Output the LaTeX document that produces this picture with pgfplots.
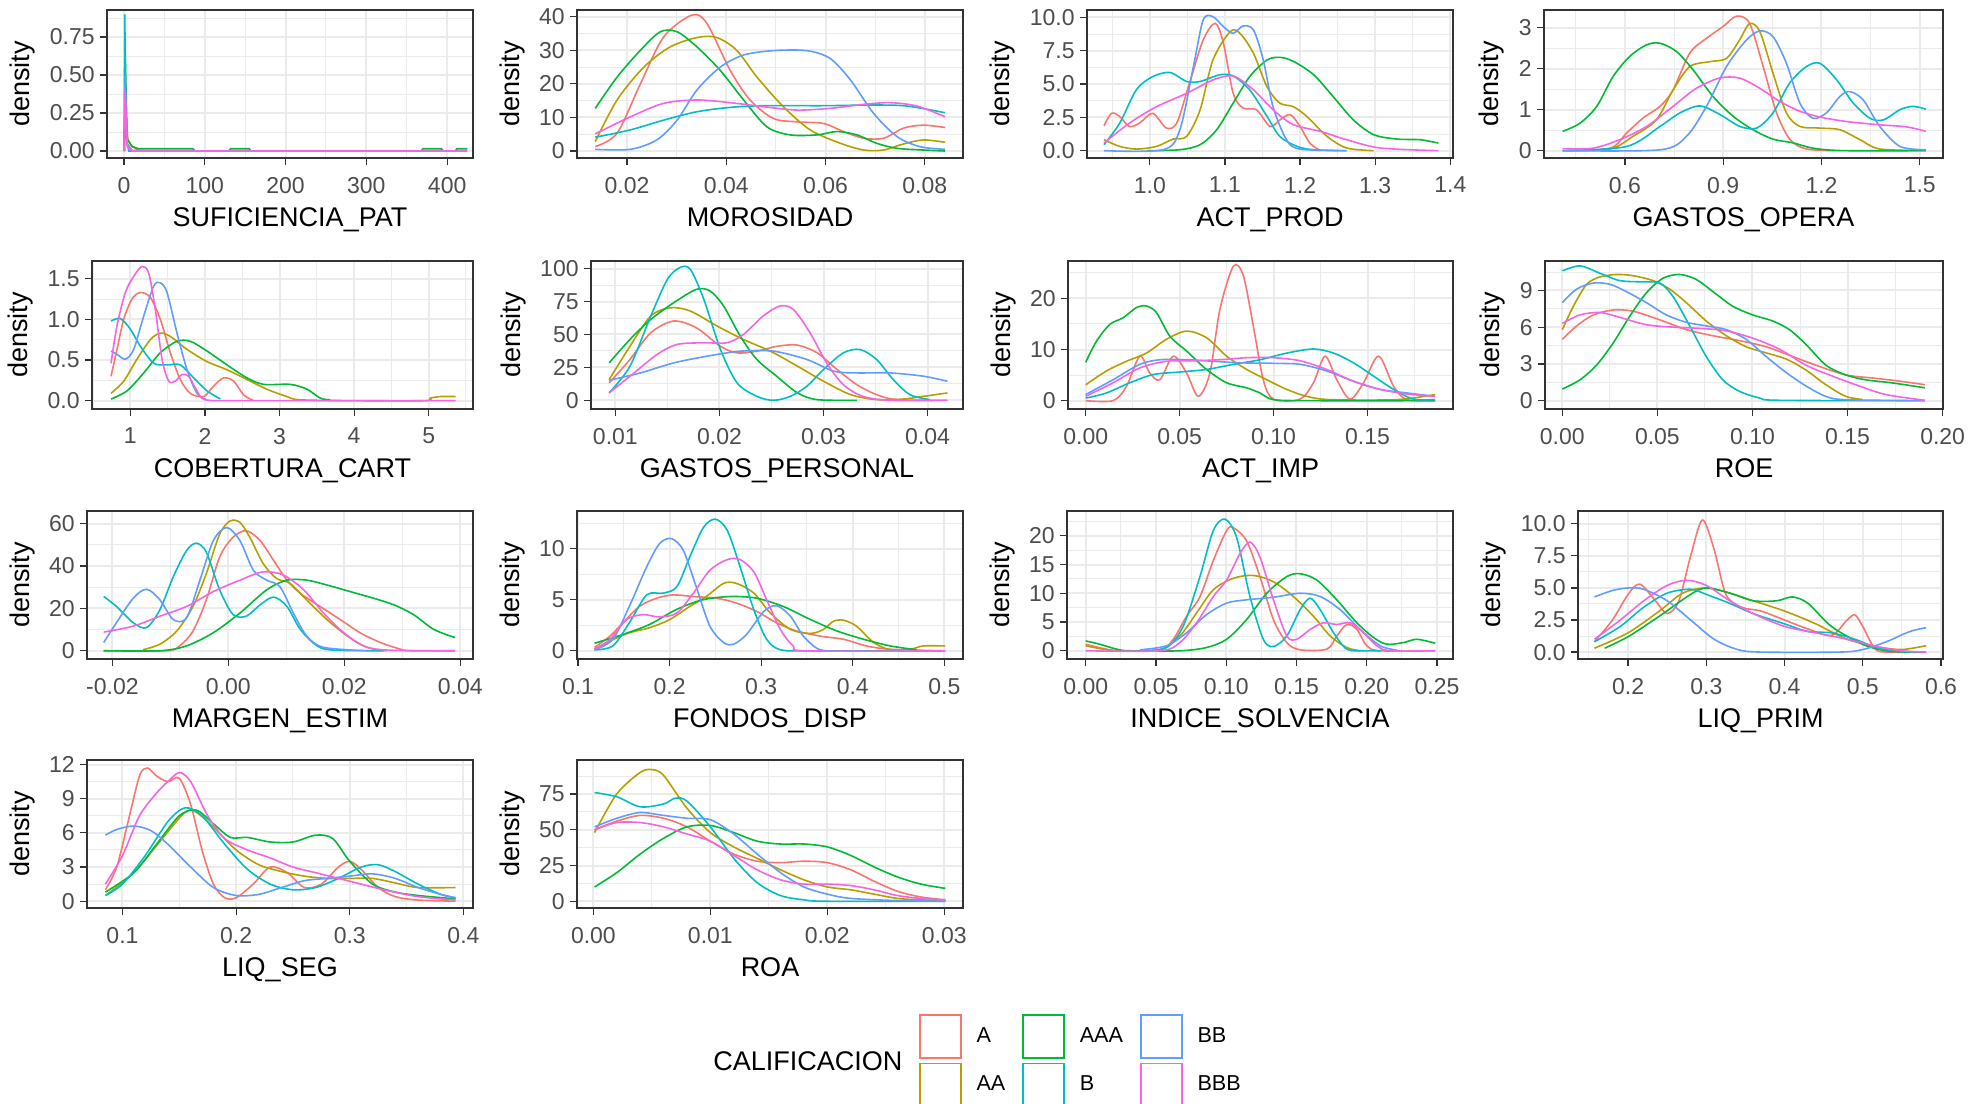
\documentclass[border=0pt]{standalone}
\usepackage{fontspec}
\setmainfont{Liberation Sans}
\usepackage{pgfplots}
\pgfplotsset{compat=1.18}

\definecolor{cA}{HTML}{F8766D}
\definecolor{cAA}{HTML}{B79F00}
\definecolor{cAAA}{HTML}{00BA38}
\definecolor{cB}{HTML}{00BFC4}
\definecolor{cBB}{HTML}{619CFF}
\definecolor{cBBB}{HTML}{F564E3}
\definecolor{gr20}{HTML}{333333}
\definecolor{gr30}{HTML}{4D4D4D}
\definecolor{gr92}{HTML}{EBEBEB}

\newcommand{\ticfont}{\fontsize{11.5}{13}\selectfont}
\newcommand{\titfont}{\fontsize{13.5}{16}\selectfont}
\newcommand{\legfont}{\fontsize{10.8}{12}\selectfont}

\pgfplotsset{
  panel/.style={
    scale only axis, anchor=north west, height=74pt,
    scaled ticks=false, tick pos=left,
    axis line style={draw=gr20, line width=0.9pt},
    tick align=outside,
    major tick length=3.5pt, minor tick length=0pt,
    tick style={draw=gr20, line width=0.6pt},
    xmajorgrids, ymajorgrids, xminorgrids, yminorgrids,
    major grid style={draw=gr92, line width=1pt},
    minor grid style={draw=gr92, line width=0.5pt},
    xticklabel style={font=\ticfont, text=gr30, inner sep=0pt, yshift=-5.8pt},
    yticklabel style={font=\ticfont, text=gr30, inner sep=0pt, xshift=-2.5pt},
    ylabel={density},
    ylabel style={font=\titfont, inner sep=0pt, at={(ticklabel cs:0.5,7pt)}, anchor=near ticklabel},
    xlabel style={font=\titfont, inner sep=0pt, at={(ticklabel cs:0.5,7pt)}, anchor=near ticklabel},
    every axis plot/.append style={line width=0.8pt, smooth, mark=none},
  },
}

\begin{document}
\begin{tikzpicture}
\useasboundingbox (0,0) rectangle (990pt,-551.5pt);

% ---------------- row 1 ----------------
\begin{axis}[panel, at={(53.5pt,-5pt)}, width=183pt,
  xmin=-21, xmax=432, ymin=-0.046, ymax=0.928,
  xtick={0,100,200,300,400}, xticklabels={0,100,200,300,400}, minor xtick={50,150,250,350},
  ytick={0,0.25,0.5,0.75}, yticklabels={0.00,0.25,0.50,0.75}, minor ytick={0.125,0.375,0.625,0.875},
  xlabel={SUFICIENCIA\_PAT}]
\addplot[cA, sharp plot] coordinates {(0.3,0)(1.5,0.3)(4,0.05)(10,0.005)(25,0)};
\addplot[cAA, sharp plot] coordinates {(0.3,0)(2,0.25)(5,0.07)(10,0.03)(18,0.005)(30,0)};
\addplot[cAAA, sharp plot] coordinates {(0.3,0)(1.5,0.65)(4,0.08)(10,0.03)(18,0.015)(85,0.015)(88,0)(130,0)(132,0.015)(155,0.015)(157,0)(368,0)(370,0.015)(393,0.015)(395,0)(410,0)(412,0.015)(425,0.015)};
\addplot[cB, sharp plot] coordinates {(0.3,0)(1,0.9)(2.5,0.1)(6,0)(25,0)};
\addplot[cBB, sharp plot] coordinates {(0.3,0)(1.5,0.5)(4,0.04)(10,0)(30,0)};
\addplot[cBBB, sharp plot] coordinates {(0.3,0)(1.5,0.4)(4,0.03)(10,0)(425,0)};
\end{axis}

\begin{axis}[panel, at={(288.5pt,-5pt)}, width=193pt,
  xmin=0.00993, xmax=0.0877, ymin=-2.08, ymax=42,
  xtick={0.02,0.04,0.06,0.08}, xticklabels={0.02,0.04,0.06,0.08}, minor xtick={0.01,0.03,0.05,0.07},
  ytick={0,10,20,30,40}, yticklabels={0,10,20,30,40}, minor ytick={5,15,25,35},
  xlabel={MOROSIDAD}]
\addplot[cA] coordinates {(0.0136,1.3)(0.018,5.3)(0.0227,20)(0.0274,34)(0.0331,40.5)(0.0361,38)(0.0408,24)(0.0448,15.2)(0.0495,9.7)(0.0542,8.7)(0.0596,8.2)(0.0636,5.8)(0.0677,3.8)(0.0717,3.8)(0.0757,6.8)(0.0797,7.7)(0.0841,7.0)};
\addplot[cAA] coordinates {(0.0136,2.8)(0.018,15.2)(0.0234,25)(0.0287,31)(0.0341,33.8)(0.0381,33.8)(0.0421,30)(0.0462,22)(0.0515,13.2)(0.0569,6.3)(0.063,2.3)(0.0677,0.3)(0.0717,0.3)(0.0757,2.1)(0.0797,3.3)(0.0841,2.6)};
\addplot[cAAA] coordinates {(0.0136,12.7)(0.018,22)(0.0227,30)(0.0267,35.5)(0.0301,35.5)(0.0341,31)(0.0388,24)(0.0435,15.2)(0.0482,7.2)(0.0529,4.8)(0.0583,4.8)(0.0623,5.8)(0.0663,4.8)(0.0703,2.3)(0.0744,0.8)(0.0797,0.3)(0.0841,0)};
\addplot[cB] coordinates {(0.0136,4.1)(0.0207,6.3)(0.0274,9.2)(0.0341,11.7)(0.0408,13)(0.0475,13.5)(0.0596,13.5)(0.0697,13.7)(0.0764,13.4)(0.0841,11.4)};
\addplot[cBB] coordinates {(0.0136,0.5)(0.0207,0.5)(0.026,3.3)(0.0301,9.2)(0.0341,18.2)(0.0388,25)(0.0435,28.6)(0.0495,29.9)(0.0562,29.9)(0.0609,27.6)(0.065,21.2)(0.0697,11.2)(0.0744,4.3)(0.079,1.3)(0.0841,0.5)};
\addplot[cBBB] coordinates {(0.0136,5.1)(0.0207,10.2)(0.0274,14.2)(0.0341,15.2)(0.0408,14.4)(0.0475,13.2)(0.0542,12.2)(0.0609,12.7)(0.0677,13.9)(0.073,14.4)(0.0784,13.4)(0.0841,10.2)};
\end{axis}

\begin{axis}[panel, at={(543.5pt,-5pt)}, width=183pt,
  xmin=0.9164, xmax=1.4036, ymin=-0.55, ymax=10.55,
  xtick={1,1.1,1.2,1.3,1.4}, xticklabels={1.0,1.1,1.2,1.3,1.4}, minor xtick={0.95,1.05,1.15,1.25,1.35},
  ytick={0,2.5,5,7.5,10}, yticklabels={0.0,2.5,5.0,7.5,10.0}, minor ytick={1.25,3.75,6.25,8.75},
  xlabel={ACT\_PROD}]
\addplot[cA] coordinates {(0.939,1.87)(0.949,2.8)(0.96,2.57)(0.973,1.8)(0.987,2.1)(1.004,2.8)(1.022,1.7)(1.036,2.1)(1.053,5.1)(1.071,8.3)(1.087,9.55)(1.098,8.05)(1.111,4.3)(1.124,3.2)(1.142,3.07)(1.16,1.82)(1.173,2.3)(1.187,2.7)(1.2,1.82)(1.213,0.57)(1.227,0)};
\addplot[cAA] coordinates {(0.939,0.82)(0.96,0.32)(0.982,0.12)(1.009,0.32)(1.031,0.87)(1.049,1.07)(1.067,3.07)(1.084,6.8)(1.107,8.93)(1.12,8.8)(1.138,7.3)(1.156,4.8)(1.173,3.57)(1.191,3.3)(1.209,2.57)(1.236,1.07)(1.262,0.2)(1.298,0)};
\addplot[cAAA] coordinates {(0.996,0)(1.04,0.07)(1.067,0.45)(1.089,1.57)(1.111,3.57)(1.133,5.56)(1.156,6.8)(1.173,7.0)(1.191,6.7)(1.218,5.7)(1.244,4.06)(1.271,2.3)(1.298,1.2)(1.329,0.87)(1.36,0.82)(1.384,0.57)};
\addplot[cB] coordinates {(0.939,0.45)(0.96,2.07)(0.982,4.56)(1.004,5.56)(1.027,5.86)(1.049,5.19)(1.067,5.19)(1.093,5.69)(1.111,5.6)(1.133,4.56)(1.156,2.57)(1.173,1.07)(1.196,0.32)(1.218,0.07)(1.262,0)};
\addplot[cBB] coordinates {(0.939,0)(1.018,0.07)(1.04,1.57)(1.058,6.3)(1.071,9.8)(1.084,10.05)(1.098,9.3)(1.111,8.8)(1.124,9.35)(1.138,9.05)(1.151,6.8)(1.164,3.3)(1.182,0.82)(1.2,0.12)(1.262,0)};
\addplot[cBBB] coordinates {(0.939,0.57)(0.973,2.07)(1.009,3.3)(1.049,4.3)(1.084,5.3)(1.111,5.6)(1.138,4.56)(1.164,3.07)(1.191,1.95)(1.227,1.45)(1.262,0.82)(1.307,0.2)(1.384,0)};
\end{axis}

\begin{axis}[panel, at={(772pt,-5pt)}, width=199.5pt,
  xmin=0.353, xmax=1.571, ymin=-0.18, ymax=3.43,
  xtick={0.6,0.9,1.2,1.5}, xticklabels={0.6,0.9,1.2,1.5}, minor xtick={0.45,0.75,1.05,1.35},
  ytick={0,1,2,3}, yticklabels={0,1,2,3}, minor ytick={0.5,1.5,2.5},
  xlabel={GASTOS\_OPERA}]
\addplot[cA] coordinates {(0.41,0)(0.554,0.06)(0.605,0.43)(0.656,0.8)(0.707,1.08)(0.747,1.48)(0.798,2.38)(0.849,2.74)(0.9,3.03)(0.941,3.28)(0.981,3.1)(1.022,2.05)(1.063,0.92)(1.104,0.27)(1.154,0.04)(1.246,0)};
\addplot[cAA] coordinates {(0.41,0)(0.554,0.04)(0.625,0.35)(0.696,0.75)(0.747,1.48)(0.798,2.05)(0.859,2.17)(0.91,2.25)(0.95,2.7)(0.981,3.1)(1.012,2.9)(1.052,1.89)(1.093,0.92)(1.134,0.59)(1.195,0.55)(1.256,0.51)(1.317,0.27)(1.378,0.04)(1.519,0)};
\addplot[cAAA] coordinates {(0.41,0.47)(0.463,0.67)(0.514,1.08)(0.564,1.81)(0.615,2.3)(0.666,2.58)(0.707,2.62)(0.757,2.42)(0.808,1.97)(0.869,1.32)(0.93,0.84)(0.991,0.51)(1.052,0.28)(1.113,0.19)(1.174,0.06)(1.266,0)(1.519,0)};
\addplot[cB] coordinates {(0.41,0)(0.605,0.1)(0.707,0.59)(0.768,0.92)(0.829,1.09)(0.89,0.88)(0.951,0.59)(1.002,0.55)(1.052,0.92)(1.103,1.65)(1.154,2.05)(1.195,2.13)(1.246,1.73)(1.297,1.16)(1.348,0.79)(1.389,0.75)(1.44,1.0)(1.48,1.08)(1.519,1.01)};
\addplot[cBB] coordinates {(0.41,0)(0.707,0.02)(0.788,0.35)(0.849,1.08)(0.91,2.05)(0.971,2.7)(1.012,2.92)(1.052,2.78)(1.093,2.13)(1.134,1.16)(1.174,0.79)(1.215,0.92)(1.256,1.32)(1.286,1.44)(1.327,1.24)(1.378,0.59)(1.44,0.1)(1.519,0.02)};
\addplot[cBBB] coordinates {(0.41,0.05)(0.503,0.06)(0.585,0.27)(0.666,0.59)(0.747,1.08)(0.818,1.52)(0.889,1.77)(0.95,1.77)(1.012,1.52)(1.073,1.2)(1.134,0.96)(1.195,0.82)(1.276,0.71)(1.378,0.63)(1.459,0.58)(1.519,0.47)};
\end{axis}

% ---------------- row 2 ----------------
\begin{axis}[panel, at={(46pt,-130.5pt)}, width=190.5pt,
  xmin=0.486, xmax=5.594, ymin=-0.103, ymax=1.718,
  xtick={1,2,3,4,5}, xticklabels={1,2,3,4,5}, minor xtick={0.5,1.5,2.5,3.5,4.5,5.5},
  ytick={0,0.5,1,1.5}, yticklabels={0.0,0.5,1.0,1.5}, minor ytick={0.25,0.75,1.25},
  xlabel={COBERTURA\_CART}]
\addplot[cA] coordinates {(0.741,0.3)(0.821,0.63)(0.911,1.0)(1.022,1.25)(1.134,1.33)(1.268,1.27)(1.402,1.0)(1.536,0.59)(1.67,0.26)(1.804,0.09)(1.983,0.05)(2.117,0.18)(2.251,0.28)(2.385,0.24)(2.52,0.07)(2.654,0)};
\addplot[cAA] coordinates {(0.741,0.09)(0.911,0.24)(1.089,0.51)(1.268,0.75)(1.402,0.83)(1.536,0.79)(1.76,0.63)(2.028,0.48)(2.296,0.38)(2.564,0.26)(2.832,0.14)(3.1,0.05)(3.279,0.01)(4.0,0)(4.95,0)(5.02,0.03)(5.15,0.05)(5.36,0.05)};
\addplot[cAAA] coordinates {(0.741,0.02)(0.955,0.12)(1.179,0.34)(1.402,0.59)(1.626,0.73)(1.804,0.73)(2.028,0.61)(2.296,0.44)(2.564,0.28)(2.788,0.2)(3.145,0.2)(3.369,0.14)(3.548,0.03)(3.682,0.01)};
\addplot[cB] coordinates {(0.741,0.98)(0.866,1.01)(1.0,0.88)(1.134,0.67)(1.313,0.46)(1.492,0.44)(1.67,0.44)(1.849,0.28)(2.028,0.12)(2.207,0.02)};
\addplot[cBB] coordinates {(0.741,0.61)(0.821,0.57)(0.933,0.51)(1.045,0.63)(1.179,1.04)(1.313,1.41)(1.402,1.45)(1.492,1.33)(1.626,0.83)(1.76,0.38)(1.894,0.09)(2.028,0.01)};
\addplot[cBBB] coordinates {(0.741,0.46)(0.821,0.92)(0.933,1.33)(1.045,1.53)(1.156,1.65)(1.246,1.57)(1.335,1.12)(1.425,0.51)(1.514,0.24)(1.603,0.24)(1.693,0.32)(1.782,0.3)(1.894,0.12)(2.006,0.01)(2.5,0)(5.36,0)};
\end{axis}

\begin{axis}[panel, at={(295.5pt,-130.5pt)}, width=186pt,
  xmin=0.00766, xmax=0.0434, ymin=-6.6, ymax=105.8,
  xtick={0.01,0.02,0.03,0.04}, xticklabels={0.01,0.02,0.03,0.04}, minor xtick={0.015,0.025,0.035},
  ytick={0,25,50,75,100}, yticklabels={0,25,50,75,100}, minor ytick={12.5,37.5,62.5,87.5},
  xlabel={GASTOS\_PERSONAL}]
\addplot[cA] coordinates {(0.0094,13.2)(0.0114,31)(0.0134,51.3)(0.0156,60.2)(0.0178,55)(0.0201,41)(0.0217,36)(0.0236,37.3)(0.0255,41)(0.0275,41.9)(0.0294,36)(0.0313,23.4)(0.0332,11.9)(0.0351,4.3)(0.0371,0.5)(0.0419,0)};
\addplot[cAA] coordinates {(0.0094,15.7)(0.0114,41)(0.0134,64)(0.0153,70.3)(0.0172,67.8)(0.0198,56.3)(0.0223,46.2)(0.0249,37.3)(0.0275,25.9)(0.03,14.5)(0.0326,4.3)(0.0351,0.5)(0.0377,1.0)(0.0396,3.0)(0.0419,5.6)};
\addplot[cAAA] coordinates {(0.0094,28.4)(0.0114,46.2)(0.0134,61.4)(0.0156,74.1)(0.0178,84.3)(0.0191,83)(0.0204,71.6)(0.022,48.7)(0.0236,31)(0.0255,18.3)(0.0275,5.6)(0.0294,0.5)(0.0332,0)};
\addplot[cB] coordinates {(0.0094,5.6)(0.0114,25.9)(0.0134,64)(0.015,91.9)(0.0162,100.8)(0.0172,99.5)(0.0185,76.6)(0.0201,38.6)(0.0217,13.2)(0.0236,3.0)(0.0252,0)(0.0268,3.0)(0.0284,10.7)(0.03,23.4)(0.0319,36)(0.0335,38.6)(0.0351,31)(0.0367,15.7)(0.0383,4.3)(0.0402,0.5)};
\addplot[cBB] coordinates {(0.0094,15.2)(0.0124,20.8)(0.0156,28.4)(0.0188,33.5)(0.022,37.3)(0.0252,37.3)(0.0284,31)(0.031,22.1)(0.0332,20.8)(0.0364,20.8)(0.0396,18.3)(0.0419,14.5)};
\addplot[cBBB] coordinates {(0.0094,5.6)(0.0118,20.8)(0.014,34.8)(0.0159,42.4)(0.0185,43.7)(0.0207,43.7)(0.0223,50)(0.0242,64)(0.0258,71.6)(0.0271,69)(0.0287,51.3)(0.0303,28.4)(0.0319,11.9)(0.0338,3.0)(0.0364,0)(0.0419,0)};
\end{axis}

\begin{axis}[panel, at={(534pt,-130.5pt)}, width=192.5pt,
  xmin=-0.00942, xmax=0.1955, ymin=-1.63, ymax=27.3,
  xtick={0,0.05,0.1,0.15}, xticklabels={0.00,0.05,0.10,0.15}, minor xtick={0.025,0.075,0.125,0.175},
  ytick={0,10,20}, yticklabels={0,10,20}, minor ytick={5,15,25},
  xlabel={ACT\_IMP}]
\addplot[cA] coordinates {(0,0)(0.0146,0)(0.0217,2.8)(0.0288,8.7)(0.0341,5.4)(0.0395,4.1)(0.0466,8.7)(0.0537,5.4)(0.0599,0.85)(0.0661,5.4)(0.0714,17.8)(0.0786,26.3)(0.0839,24.4)(0.0892,14.6)(0.0945,4.1)(0.0999,0.3)(0.1141,0.3)(0.1212,3.5)(0.1274,8.7)(0.1336,4.1)(0.1407,0.3)(0.1479,3.5)(0.1559,8.7)(0.1639,2.8)(0.171,0.2)(0.186,0)};
\addplot[cAA] coordinates {(0,3.1)(0.011,5.8)(0.0217,7.7)(0.0323,9.3)(0.043,12)(0.0537,13.6)(0.0643,12.3)(0.075,8.7)(0.0857,6.1)(0.0963,4.1)(0.107,2.2)(0.1176,0.85)(0.1301,0.2)(0.1656,0.2)(0.186,1.2)};
\addplot[cAAA] coordinates {(0,7.5)(0.0057,11.6)(0.0128,14.9)(0.0199,16.2)(0.027,18.2)(0.0323,18.5)(0.0377,17.2)(0.0448,12.6)(0.0537,9.7)(0.0643,6.1)(0.075,3.5)(0.0857,2.5)(0.0928,1.5)(0.0999,0.2)(0.12,0)(0.186,0)};
\addplot[cB] coordinates {(0,0.5)(0.011,1.5)(0.0235,3.5)(0.0359,5.1)(0.0501,5.6)(0.0643,6.1)(0.0786,7.1)(0.0928,8.0)(0.107,9.3)(0.1212,10.1)(0.1319,9.3)(0.1425,7.4)(0.1532,4.8)(0.1639,2.2)(0.1745,0.3)(0.186,0.2)};
\addplot[cBB] coordinates {(0,1.2)(0.0146,4.1)(0.0288,7.1)(0.0395,8.0)(0.0537,8.0)(0.068,7.7)(0.0821,7.4)(0.0999,7.3)(0.1141,7.1)(0.1283,5.8)(0.1425,3.8)(0.1567,2.2)(0.171,1.5)(0.186,0.85)};
\addplot[cBBB] coordinates {(0,0.85)(0.0146,3.5)(0.0288,6.4)(0.043,7.7)(0.0572,7.8)(0.0714,8.0)(0.0857,8.4)(0.0999,8.4)(0.1141,7.8)(0.1283,6.1)(0.1425,3.8)(0.1567,2.2)(0.171,1.3)(0.186,0.85)};
\end{axis}

\begin{axis}[panel, at={(772.5pt,-130.5pt)}, width=199pt,
  xmin=-0.0091, xmax=0.2002, ymin=-0.68, ymax=11.4,
  xtick={0,0.05,0.1,0.15,0.2}, xticklabels={0.00,0.05,0.10,0.15,0.20}, minor xtick={0.025,0.075,0.125,0.175},
  ytick={0,3,6,9}, yticklabels={0,3,6,9}, minor ytick={1.5,4.5,7.5,10.5},
  xlabel={ROE}]
\addplot[cA] coordinates {(0,5.0)(0.0075,6.1)(0.0163,7.0)(0.0267,7.4)(0.0372,7.3)(0.0512,6.6)(0.0652,5.8)(0.0792,5.3)(0.0932,4.9)(0.1072,4.4)(0.1212,3.6)(0.1351,2.8)(0.1491,2.1)(0.1631,1.85)(0.1771,1.6)(0.1907,1.3)};
\addplot[cAA] coordinates {(0,5.8)(0.0058,7.7)(0.0128,9.5)(0.0198,10.1)(0.0285,10.3)(0.0372,10.2)(0.0477,9.8)(0.0565,9.1)(0.0652,8.0)(0.0757,6.5)(0.0862,5.3)(0.0967,4.4)(0.1072,3.9)(0.1177,3.4)(0.1281,2.5)(0.1386,1.3)(0.1491,0.35)(0.1579,0.1)};
\addplot[cAAA] coordinates {(0,0.95)(0.0093,1.7)(0.018,2.9)(0.0267,4.7)(0.0355,6.9)(0.0442,8.8)(0.053,10.0)(0.0617,10.3)(0.0704,9.9)(0.0792,8.9)(0.0897,7.7)(0.1002,7.0)(0.1107,6.5)(0.1194,5.8)(0.1281,4.6)(0.1386,2.9)(0.1491,2.1)(0.1596,1.7)(0.1736,1.45)(0.1907,1.05)};
\addplot[cB] coordinates {(0,10.6)(0.0093,11.0)(0.0198,10.4)(0.0302,9.8)(0.0407,9.7)(0.0512,9.6)(0.0582,8.5)(0.067,6.1)(0.0757,3.6)(0.0844,1.7)(0.0932,0.76)(0.1037,0.22)(0.1142,0.03)(0.1907,0)};
\addplot[cBB] coordinates {(0,8.0)(0.0075,9.1)(0.0163,9.6)(0.025,9.5)(0.0337,8.9)(0.0442,8.0)(0.0547,7.0)(0.0652,6.4)(0.0757,6.1)(0.0862,5.8)(0.0967,5.0)(0.1072,3.6)(0.1177,2.3)(0.1281,1.2)(0.1386,0.35)(0.1491,0.08)(0.1907,0)};
\addplot[cBBB] coordinates {(0,6.3)(0.0093,7.0)(0.0198,7.2)(0.0302,6.8)(0.0442,6.2)(0.0582,6.0)(0.0722,5.9)(0.0862,5.7)(0.1002,5.1)(0.1142,4.2)(0.1281,2.9)(0.1421,2.0)(0.1561,1.2)(0.1701,0.5)(0.1907,0.03)};
\end{axis}

% ---------------- row 3 ----------------
\begin{axis}[panel, at={(43.5pt,-255.5pt)}, width=193pt,
  xmin=-0.02438, xmax=0.04219, ymin=-3.9, ymax=65.9,
  xtick={-0.02,0,0.02,0.04}, xticklabels={-0.02,0.00,0.02,0.04}, minor xtick={-0.01,0.01,0.03},
  ytick={0,20,40,60}, yticklabels={0,20,40,60}, minor ytick={10,30,50},
  xlabel={MARGEN\_ESTIM}]
\addplot[cA] coordinates {(-0.0215,0)(-0.0107,0)(-0.0084,2.3)(-0.0061,9.3)(-0.0038,24)(-0.0015,44.2)(0.0008,53.5)(0.0031,56.6)(0.0055,51.9)(0.0078,42.6)(0.0101,33.3)(0.0124,27.1)(0.0158,20.9)(0.0193,14.7)(0.0227,8.5)(0.0262,3.9)(0.0296,0.8)(0.0314,0)(0.0391,0)};
\addplot[cAA] coordinates {(-0.0147,0.5)(-0.0118,3.1)(-0.0089,9.3)(-0.0061,20.9)(-0.0038,36.4)(-0.0015,55)(0.0003,61.2)(0.002,60.5)(0.0037,53.5)(0.006,41.1)(0.0083,34.1)(0.0106,31.8)(0.0135,24)(0.017,14.7)(0.0205,7.0)(0.0239,1.6)(0.0274,0)};
\addplot[cAAA] coordinates {(-0.0215,0)(-0.0118,0)(-0.0072,2.3)(-0.0026,8.5)(0.002,17.8)(0.0066,28.7)(0.0101,33.3)(0.0135,33.3)(0.017,31)(0.021,27.9)(0.025,24.8)(0.0285,21.7)(0.0319,17.1)(0.0354,10.1)(0.0391,6.2)};
\addplot[cB] coordinates {(-0.0215,25.6)(-0.0193,20.9)(-0.0164,13.2)(-0.0141,10.9)(-0.0118,19.4)(-0.0095,34.9)(-0.0072,47.3)(-0.0055,50.7)(-0.0038,46.5)(-0.0015,28.7)(0.0008,17.1)(0.0031,16.3)(0.0055,21.7)(0.0078,25.3)(0.0101,20.9)(0.0124,10.1)(0.0153,2.3)(0.0181,0.3)(0.0268,0)};
\addplot[cBB] coordinates {(-0.0215,3.9)(-0.0193,13.2)(-0.0164,24.8)(-0.0141,29)(-0.0118,24)(-0.0095,14.7)(-0.0072,15.5)(-0.0049,33.3)(-0.0026,51.9)(-0.0003,58.1)(0.002,51.9)(0.0043,38)(0.0066,33.3)(0.0089,30.2)(0.0112,17.8)(0.0135,7.0)(0.0164,1.6)(0.0239,0)};
\addplot[cBBB] coordinates {(-0.0215,8.8)(-0.0164,11.6)(-0.0118,16.3)(-0.0072,20.9)(-0.0026,27.9)(0.002,33.3)(0.006,37.2)(0.0095,35.7)(0.013,28.7)(0.0164,17.8)(0.0199,8.5)(0.0233,2.3)(0.0274,0.3)(0.0391,0)};
\end{axis}

\begin{axis}[panel, at={(288.5pt,-255.5pt)}, width=193pt,
  xmin=0.0989, xmax=0.5204, ymin=-0.8, ymax=13.7,
  xtick={0.1,0.2,0.3,0.4,0.5}, xticklabels={0.1,0.2,0.3,0.4,0.5}, minor xtick={0.15,0.25,0.35,0.45},
  ytick={0,5,10}, yticklabels={0,5,10}, minor ytick={2.5,7.5,12.5},
  xlabel={FONDOS\_DISP}]
\addplot[cA] coordinates {(0.118,0.32)(0.135,1.45)(0.149,2.74)(0.167,4.35)(0.186,5.16)(0.204,5.48)(0.226,5.32)(0.251,5.16)(0.273,4.68)(0.295,3.87)(0.317,2.74)(0.339,1.94)(0.364,1.45)(0.39,1.13)(0.415,0.48)(0.441,0.16)(0.501,0)};
\addplot[cAA] coordinates {(0.118,0.16)(0.135,0.97)(0.156,1.77)(0.178,2.26)(0.2,3.06)(0.222,4.35)(0.24,5.32)(0.259,6.61)(0.273,6.61)(0.292,5.65)(0.31,3.71)(0.332,2.1)(0.354,1.71)(0.368,2.1)(0.379,2.9)(0.39,3.0)(0.404,2.42)(0.423,0.81)(0.441,0.1)(0.463,0.16)(0.477,0.48)(0.501,0.48)};
\addplot[cAAA] coordinates {(0.118,0.74)(0.149,1.61)(0.178,2.58)(0.207,4.03)(0.236,5.0)(0.266,5.32)(0.295,5.16)(0.324,4.35)(0.354,3.06)(0.383,1.94)(0.412,1.13)(0.441,0.48)(0.47,0.1)};
\addplot[cB] coordinates {(0.118,0.1)(0.138,0.48)(0.156,2.74)(0.175,5.48)(0.193,5.65)(0.208,6.29)(0.222,9.19)(0.237,12.1)(0.25,12.9)(0.263,11.8)(0.277,8.23)(0.292,4.03)(0.306,1.13)(0.321,0.1)(0.35,0)(0.501,0)};
\addplot[cBB] coordinates {(0.118,0.1)(0.138,1.13)(0.156,4.35)(0.175,8.23)(0.189,10.5)(0.202,11.0)(0.215,9.84)(0.229,6.29)(0.244,2.42)(0.259,0.81)(0.27,0.65)(0.284,1.61)(0.303,3.87)(0.317,4.42)(0.332,3.39)(0.346,1.45)(0.361,0.23)(0.372,0)};
\addplot[cBBB] coordinates {(0.118,0.16)(0.135,1.13)(0.153,3.06)(0.171,3.55)(0.189,3.32)(0.208,3.71)(0.226,5.65)(0.244,7.9)(0.263,8.94)(0.277,8.94)(0.292,7.74)(0.306,5.0)(0.321,2.1)(0.335,0.48)(0.35,0)(0.501,0)};
\end{axis}

\begin{axis}[panel, at={(533.5pt,-255.5pt)}, width=193pt,
  xmin=-0.0133, xmax=0.2614, ymin=-1.43, ymax=24.3,
  xtick={0,0.05,0.1,0.15,0.2,0.25}, xticklabels={0.00,0.05,0.10,0.15,0.20,0.25}, minor xtick={0.025,0.075,0.125,0.175,0.225},
  ytick={0,5,10,15,20}, yticklabels={0,5,10,15,20}, minor ytick={2.5,7.5,12.5,17.5,22.5},
  xlabel={INDICE\_SOLVENCIA}]
\addplot[cA] coordinates {(0,1.14)(0.0124,0.4)(0.0242,0)(0.0528,0.17)(0.0623,2.0)(0.0718,6.0)(0.0813,9.4)(0.0908,15.7)(0.1003,20.9)(0.105,21.4)(0.1145,19.1)(0.124,12.9)(0.1336,5.4)(0.1431,1.43)(0.1526,0.17)(0.1716,0.29)(0.1787,2.57)(0.1858,4.57)(0.193,3.71)(0.2001,0.86)(0.2096,0)(0.2488,0)};
\addplot[cAA] coordinates {(0,0.86)(0.0124,0.29)(0.0242,0)(0.0528,0.17)(0.067,2.57)(0.0789,6.57)(0.0908,10.6)(0.105,12.6)(0.1193,13.1)(0.1336,12.0)(0.1478,9.43)(0.1621,6.0)(0.174,2.57)(0.1858,0.57)(0.1953,0)};
\addplot[cAAA] coordinates {(0,1.71)(0.01,1.14)(0.0219,0.29)(0.0314,0)(0.067,0)(0.086,0.57)(0.1003,2.0)(0.1145,5.43)(0.1288,10.0)(0.1431,12.9)(0.1526,13.4)(0.1644,12.3)(0.1787,8.86)(0.193,4.86)(0.2049,2.29)(0.2144,1.14)(0.2262,1.43)(0.2357,2.0)(0.2488,1.31)};
\addplot[cB] coordinates {(0.0385,0)(0.0575,0.57)(0.0694,4.29)(0.0813,12.9)(0.0908,20.9)(0.0991,22.9)(0.1074,19.7)(0.1169,9.43)(0.1264,2.0)(0.1336,0.74)(0.1431,2.57)(0.1526,7.14)(0.1597,9.14)(0.1669,7.14)(0.1764,3.14)(0.1858,0.29)(0.1977,0)(0.21,0)};
\addplot[cBB] coordinates {(0.0385,0.17)(0.0575,0.86)(0.0718,3.14)(0.086,6.29)(0.1003,8.29)(0.1145,8.86)(0.1336,9.31)(0.1526,10.0)(0.1669,9.43)(0.1811,7.14)(0.1953,3.71)(0.2096,0.86)(0.2215,0.11)};
\addplot[cBBB] coordinates {(0,0)(0.0528,0)(0.067,1.43)(0.0789,4.86)(0.0908,9.43)(0.1003,12.3)(0.1098,16.9)(0.1169,18.9)(0.124,16.3)(0.1336,8.86)(0.1431,2.57)(0.1502,2.0)(0.1597,3.71)(0.1692,4.86)(0.1787,4.57)(0.1882,4.86)(0.1977,3.14)(0.2072,0.86)(0.2167,0)(0.2488,0)};
\end{axis}

\begin{axis}[panel, at={(789pt,-255.5pt)}, width=182.5pt,
  xmin=0.136, xmax=0.6026, ymin=-0.54, ymax=11.0,
  xtick={0.2,0.3,0.4,0.5,0.6}, xticklabels={0.2,0.3,0.4,0.5,0.6}, minor xtick={0.15,0.25,0.35,0.45,0.55},
  ytick={0,2.5,5,7.5,10}, yticklabels={0.0,2.5,5.0,7.5,10.0}, minor ytick={1.25,3.75,6.25,8.75},
  xlabel={LIQ\_PRIM}]
\addplot[cA] coordinates {(0.157,0.8)(0.18,2.5)(0.2,4.5)(0.215,5.3)(0.235,4.0)(0.25,3.0)(0.265,4.0)(0.28,7.5)(0.295,10.3)(0.31,8.0)(0.325,4.5)(0.345,3.5)(0.37,3.2)(0.4,2.5)(0.43,1.8)(0.46,1.3)(0.48,2.5)(0.49,2.9)(0.5,2.0)(0.515,0.3)(0.53,0)(0.581,0)};
\addplot[cAA] coordinates {(0.157,0.3)(0.2,1.5)(0.24,3.2)(0.27,4.6)(0.3,5.0)(0.33,4.6)(0.36,4.0)(0.4,3.2)(0.44,2.2)(0.48,1.0)(0.52,0.4)(0.55,0.2)(0.581,0.5)};
\addplot[cAAA] coordinates {(0.17,0.3)(0.2,1.2)(0.24,2.8)(0.28,4.5)(0.3,5.0)(0.33,4.6)(0.36,4.0)(0.39,4.0)(0.41,4.3)(0.43,3.8)(0.46,2.0)(0.5,0.6)(0.53,0.1)(0.56,0)};
\addplot[cB] coordinates {(0.157,0.8)(0.19,2.0)(0.22,3.5)(0.25,4.6)(0.28,4.9)(0.3,4.5)(0.33,3.8)(0.36,3.0)(0.4,2.2)(0.43,1.6)(0.46,1.5)(0.49,1.0)(0.52,0.3)(0.55,0.05)(0.581,0)};
\addplot[cBB] coordinates {(0.157,4.3)(0.18,4.8)(0.2,5.0)(0.22,4.9)(0.25,4.0)(0.28,2.5)(0.31,1.0)(0.34,0.2)(0.37,0)(0.47,0)(0.5,0.2)(0.53,0.8)(0.56,1.6)(0.581,1.9)};
\addplot[cBBB] coordinates {(0.157,1.0)(0.19,2.5)(0.22,4.0)(0.25,5.2)(0.275,5.6)(0.3,5.2)(0.33,4.0)(0.36,3.0)(0.4,2.0)(0.44,1.5)(0.48,1.0)(0.52,0.4)(0.55,0.1)(0.581,0)};
\end{axis}

% ---------------- row 4 ----------------
\begin{axis}[panel, at={(43.5pt,-380pt)}, width=193pt,
  xmin=0.0688, xmax=0.4084, ymin=-0.6, ymax=12.4,
  xtick={0.1,0.2,0.3,0.4}, xticklabels={0.1,0.2,0.3,0.4}, minor xtick={0.15,0.25,0.35},
  ytick={0,3,6,9,12}, yticklabels={0,3,6,9,12}, minor ytick={1.5,4.5,7.5,10.5},
  xlabel={LIQ\_SEG}]
\addplot[cA] coordinates {(0.085,1.0)(0.095,3)(0.105,7)(0.115,11)(0.122,11.7)(0.13,11)(0.14,10.5)(0.15,10.8)(0.16,8.5)(0.17,4.5)(0.18,1.5)(0.19,0.3)(0.2,0.3)(0.215,1.5)(0.23,3.0)(0.245,2.5)(0.26,1.2)(0.275,1.5)(0.29,3.0)(0.3,3.5)(0.31,2.8)(0.325,1.2)(0.34,0.4)(0.36,0.1)(0.393,0)};
\addplot[cAA] coordinates {(0.085,0.5)(0.11,2.5)(0.135,5.5)(0.155,7.8)(0.165,7.8)(0.18,6.5)(0.2,4.5)(0.22,3.2)(0.24,2.6)(0.26,2.2)(0.28,2.0)(0.3,2.0)(0.32,2.0)(0.34,1.6)(0.36,1.2)(0.393,1.2)};
\addplot[cAAA] coordinates {(0.085,0.8)(0.11,2.5)(0.13,5)(0.15,7.5)(0.165,8.0)(0.18,6.8)(0.195,5.6)(0.21,5.6)(0.23,5.2)(0.25,5.2)(0.27,5.8)(0.285,5.5)(0.3,3.5)(0.32,1.5)(0.34,0.8)(0.36,0.5)(0.393,0.2)};
\addplot[cB] coordinates {(0.085,0.5)(0.1,1.5)(0.12,4.0)(0.14,7.0)(0.155,8.2)(0.17,7.5)(0.19,5.0)(0.21,2.8)(0.23,1.5)(0.25,1.0)(0.27,1.2)(0.29,2.0)(0.31,3.0)(0.325,3.2)(0.34,2.6)(0.36,1.5)(0.38,0.6)(0.393,0.3)};
\addplot[cBB] coordinates {(0.085,5.8)(0.095,6.3)(0.11,6.6)(0.125,6.2)(0.14,5.0)(0.16,3.0)(0.18,1.2)(0.2,0.5)(0.22,0.6)(0.24,1.2)(0.26,1.8)(0.28,2.0)(0.3,2.2)(0.32,2.4)(0.34,2.0)(0.36,1.2)(0.38,0.6)(0.393,0.3)};
\addplot[cBBB] coordinates {(0.085,1.5)(0.1,4)(0.115,7.5)(0.13,9.5)(0.14,10.5)(0.15,11.3)(0.16,10.5)(0.175,7.5)(0.19,5.5)(0.21,4.5)(0.23,3.8)(0.25,3.0)(0.27,2.5)(0.29,2.0)(0.31,1.5)(0.33,1.0)(0.36,0.4)(0.393,0.1)};
\end{axis}

\begin{axis}[panel, at={(288.5pt,-380pt)}, width=193pt,
  xmin=-0.0014, xmax=0.0316, ymin=-4.7, ymax=98.7,
  xtick={0,0.01,0.02,0.03}, xticklabels={0.00,0.01,0.02,0.03}, minor xtick={0.005,0.015,0.025},
  ytick={0,25,50,75}, yticklabels={0,25,50,75}, minor ytick={12.5,37.5,62.5,87.5},
  xlabel={ROA}]
\addplot[cA] coordinates {(0.0001,50)(0.002,56)(0.004,60)(0.006,58)(0.008,52)(0.01,42)(0.012,33)(0.014,28)(0.016,27)(0.018,28)(0.02,27)(0.022,22)(0.024,14)(0.026,7)(0.028,3)(0.0301,1)};
\addplot[cAA] coordinates {(0.0001,48)(0.002,75)(0.004,90)(0.005,92)(0.006,88)(0.008,65)(0.01,48)(0.012,38)(0.014,30)(0.016,22)(0.018,15)(0.02,10)(0.022,8)(0.024,5)(0.026,2)(0.028,1)(0.0301,0.5)};
\addplot[cAAA] coordinates {(0.0001,10)(0.002,20)(0.004,33)(0.006,44)(0.008,52)(0.01,53)(0.012,48)(0.014,42)(0.016,40)(0.018,40)(0.02,38)(0.022,32)(0.024,24)(0.026,17)(0.028,12)(0.0301,9)};
\addplot[cB] coordinates {(0.0001,76)(0.002,73)(0.004,66)(0.006,68)(0.007,72)(0.008,70)(0.01,52)(0.012,30)(0.014,13)(0.016,4)(0.018,1)(0.02,0)(0.0301,0)};
\addplot[cBB] coordinates {(0.0001,52)(0.002,58)(0.004,62)(0.006,60)(0.008,58)(0.01,57)(0.012,47)(0.014,33)(0.016,20)(0.018,10)(0.02,5)(0.022,2)(0.026,0.5)(0.0301,0)};
\addplot[cBBB] coordinates {(0.0001,50)(0.002,55)(0.004,55)(0.006,52)(0.008,47)(0.01,42)(0.012,32)(0.014,22)(0.016,15)(0.018,12)(0.02,12)(0.022,11)(0.024,8)(0.026,4)(0.028,2)(0.0301,1)};
\end{axis}

% ---------------- legend ----------------
\node[anchor=west, inner sep=0pt, font=\titfont] at (356.5pt,-530.5pt) {CALIFICACION};
\begin{axis}[at={(459.5pt,-507pt)}, anchor=north west, scale only axis,
  width=150pt, height=44pt, hide axis, xmin=0, xmax=1, ymin=0, ymax=1,
  legend columns=3,
  legend image code/.code={\draw[#1, fill=white, line width=0.75pt] (0pt,-10.75pt) rectangle (20.5pt,10.75pt);},
  legend style={at={(0,1)}, anchor=north west, draw=none, fill=none,
    inner sep=0pt, outer sep=0pt, row sep=2pt, font=\legfont,
    cells={anchor=west}, nodes={inner sep=0pt},
    /tikz/every odd column/.append style={column sep=7.5pt},
    /tikz/every even column/.append style={column sep=8.5pt}},
]
\addlegendimage{draw=cA}\addlegendentry{A}
\addlegendimage{draw=cAAA}\addlegendentry{AAA}
\addlegendimage{draw=cBB}\addlegendentry{BB}
\addlegendimage{draw=cAA}\addlegendentry{AA}
\addlegendimage{draw=cB}\addlegendentry{B}
\addlegendimage{draw=cBBB}\addlegendentry{BBB}
\end{axis}
\end{tikzpicture}
\end{document}
